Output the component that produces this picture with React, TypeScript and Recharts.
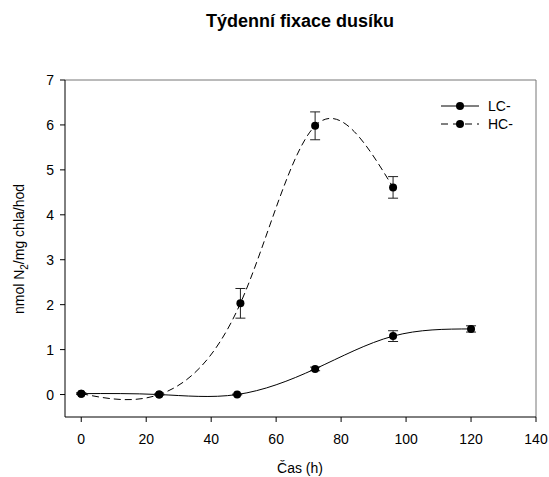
import React from "react";
import {
  LineChart,
  Line,
  XAxis,
  YAxis,
  ErrorBar,
  ReferenceLine,
} from "recharts";

// hodiny a naměřené hodnoty (nmol N2 / mg chla / hod)
const lcHours = [0, 24, 48, 72, 96, 120];
const lcValues = [0.02, 0, 0, 0.57, 1.3, 1.46];
const lcErrors = [0.02, 0.01, 0.01, 0.04, 0.12, 0.07];

const hcHours = [0, 24, 49, 72, 96];
const hcValues = [0.02, 0, 2.03, 5.98, 4.61];
const hcErrors = [0.01, 0.01, 0.33, 0.31, 0.24];

const xTicks = [0, 20, 40, 60, 80, 100, 120, 140];
const yTicks = [0, 1, 2, 3, 4, 5, 6, 7];

const seriesNames = ["LC-", "HC-"];

const FONT = "'Liberation Sans', Arial, sans-serif";

const lcData = lcHours.map((h, i) => ({ hour: h, value: lcValues[i], err: lcErrors[i] }));
const hcData = hcHours.map((h, i) => ({ hour: h, value: hcValues[i], err: hcErrors[i] }));

// legenda vpravo nahoře uvnitř grafu
const LegendBox = () => (
  <svg
    width={100}
    height={40}
    style={{ position: "absolute", left: 438, top: 97, overflow: "visible" }}
  >
    {seriesNames.map((name, i) => {
      const y = 9 + i * 18;
      return (
        <g key={name}>
          <line
            x1={3}
            x2={41}
            y1={y}
            y2={y}
            stroke="#000"
            strokeWidth={1}
            strokeDasharray={i === 1 ? "7 5" : undefined}
          />
          <circle cx={22} cy={y} r={4} fill="#000" />
          <text x={50} y={y + 5} fontSize={14} fontFamily={FONT} fill="#000">
            {name}
          </text>
        </g>
      );
    })}
  </svg>
);

const YLabel = () => (
  <text
    transform="translate(24,249) rotate(-90)"
    textAnchor="middle"
    fontSize={14}
    fontFamily={FONT}
    fill="#000"
  >
    nmol N<tspan fontSize={10} dy={4}>2</tspan>
    <tspan dy={-4}>/mg chla/hod</tspan>
  </text>
);

const XLabel = () => (
  <text x={300} y={473} textAnchor="middle" fontSize={14} fontFamily={FONT} fill="#000">
    Čas (h)
  </text>
);

export default function App() {
  return (
    <div style={{ position: "absolute", left: 0, top: 0, width: 549, height: 477, background: "#fff" }}>
      <div
        style={{
          position: "absolute",
          left: 206,
          top: 11,
          fontFamily: FONT,
          fontWeight: "bold",
          fontSize: 18,
          whiteSpace: "nowrap",
        }}
      >
        Týdenní fixace dusíku
      </div>
      <LineChart
        width={549}
        height={477}
        margin={{ top: 80, right: 13, left: 0, bottom: 0 }}
        style={{ fontFamily: FONT }}
      >
        <XAxis
          dataKey="hour"
          type="number"
          domain={[-5, 140]}
          ticks={xTicks}
          allowDataOverflow
          height={60}
          stroke="#000"
          tickSize={5}
          tickMargin={12}
          tick={{ fontSize: 14, fill: "#000", fontFamily: FONT }}
          label={{ content: () => <XLabel /> }}
        />
        <YAxis
          type="number"
          domain={[-0.5, 7]}
          ticks={yTicks}
          allowDataOverflow
          width={65}
          stroke="#000"
          tickSize={5}
          tickMargin={6}
          tick={{ fontSize: 14, fill: "#000", fontFamily: FONT }}
          label={{ content: () => <YLabel /> }}
        />
        <ReferenceLine y={7} stroke="#777" strokeWidth={1} />
        <ReferenceLine x={140} stroke="#777" strokeWidth={1} />
        <Line
          data={lcData}
          dataKey="value"
          name={seriesNames[0]}
          type="natural"
          stroke="#000"
          strokeWidth={1}
          dot={{ r: 4, fill: "#000", stroke: "#000", strokeWidth: 0 }}
          activeDot={false}
          isAnimationActive={false}
        >
          <ErrorBar dataKey="err" width={5} stroke="#222" strokeWidth={1} direction="y" />
        </Line>
        <Line
          data={hcData}
          dataKey="value"
          name={seriesNames[1]}
          type="natural"
          stroke="#000"
          strokeWidth={1}
          strokeDasharray="7 4"
          dot={{ r: 4, fill: "#000", stroke: "#000", strokeWidth: 0, strokeDasharray: "0" }}
          activeDot={false}
          isAnimationActive={false}
        >
          <ErrorBar dataKey="err" width={5} stroke="#222" strokeWidth={1} direction="y" />
        </Line>
      </LineChart>
      <LegendBox />
    </div>
  );
}
